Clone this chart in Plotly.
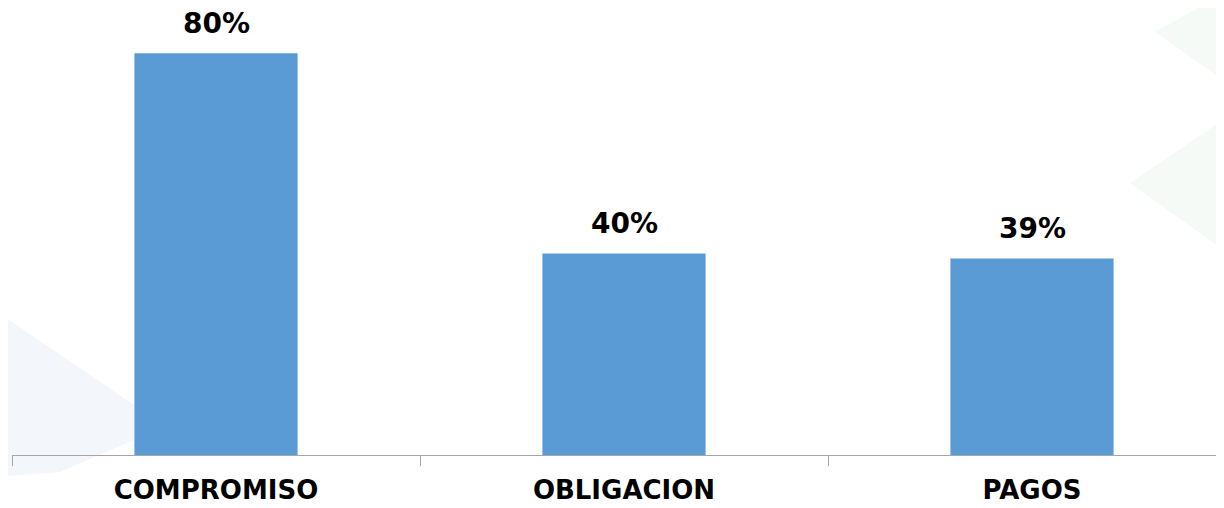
import plotly.graph_objects as go

categories = ["COMPROMISO", "OBLIGACION", "PAGOS"]
values = [0.797, 0.40, 0.39]

BAR_COLOR = "#5B9BD5"
FONT = "DejaVu Sans"

fig = go.Figure()
fig.add_trace(go.Bar(
    x=categories,
    y=values,
    marker=dict(color=BAR_COLOR, line=dict(width=0)),
    hoverinfo="skip",
))

for c, v in zip(categories, values):
    fig.add_annotation(
        x=c, y=v, xref="x", yref="y",
        text=f"<b>{v:.0%}</b>",
        showarrow=False, yanchor="bottom", yshift=11,
        font=dict(family=FONT, size=28, color="#000000"),
    )

# faint watermark shapes (window pixel -> paper conversion)
# page body has an 8px margin; plot area spans window x 12..1224, y 8..455
L, W, TOP, BOT = 12, 1212, 8, 455
def px(xp, yp):
    return (xp - L) / W, (BOT - yp) / (BOT - TOP)

def path(points):
    parts = []
    for i, (a, b) in enumerate(points):
        xx, yy = px(a, b)
        parts.append(("M" if i == 0 else "L") + f"{xx:.4f},{yy:.4f}")
    return " ".join(parts) + " Z"

shapes = [
    dict(type="path", xref="paper", yref="paper", layer="below",
         path=path([(1230, -10), (1155, 32), (1230, 85)]),
         fillcolor="#f5faf7", line=dict(width=0)),
    dict(type="path", xref="paper", yref="paper", layer="below",
         path=path([(1230, 115), (1130, 183), (1230, 255)]),
         fillcolor="#f5faf7", line=dict(width=0)),
    dict(type="path", xref="paper", yref="paper", layer="below",
         path=path([(-20, 300), (134, 405), (134, 440), (60, 472), (-20, 478)]),
         fillcolor="#f3f6fa", line=dict(width=0)),
]

fig.update_layout(
    width=1216, height=500,
    margin=dict(l=4, r=0, t=0, b=53, autoexpand=False),
    paper_bgcolor="white", plot_bgcolor="rgba(0,0,0,0)",
    bargap=0.6,
    showlegend=False,
    shapes=shapes,
    xaxis=dict(
        range=[-0.5, 2.4706],
        automargin=False,
        showline=True, linecolor="#a6a6a6", linewidth=1,
        ticks="outside", tickson="boundaries", ticklen=10,
        tickcolor="#a6a6a6", tickwidth=1,
        ticklabelstandoff=12,
        showgrid=False, zeroline=False,
        tickfont=dict(family=FONT, size=26, color="#000000", weight="bold"),
        fixedrange=True,
    ),
    yaxis=dict(
        range=[0, 0.887], visible=False, showgrid=False, zeroline=False,
        automargin=False, fixedrange=True,
    ),
)

fig.write_html("out.html")
